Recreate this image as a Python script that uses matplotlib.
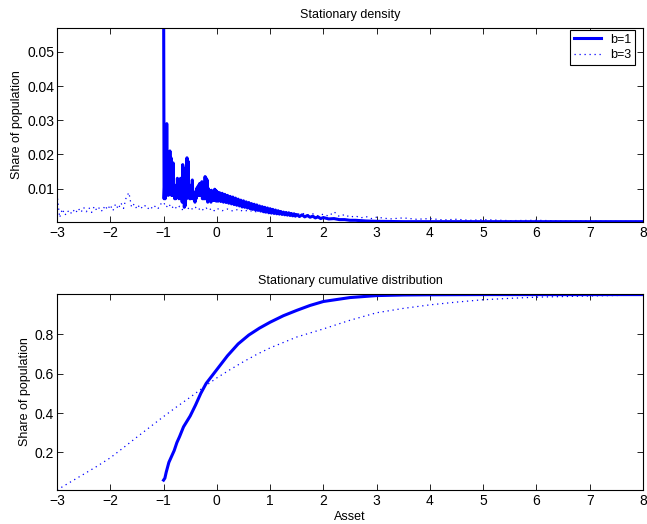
import matplotlib
matplotlib.use("Agg")
import matplotlib.pyplot as plt

plt.rcParams['font.family'] = ['Liberation Sans', 'DejaVu Sans']
plt.rcParams['font.size'] = 9

# ---- Stationary density, b=1 ----
dens1_x = [-1.00, -0.99, -0.98, -0.97, -0.96, -0.95, -0.94, -0.93, -0.92, -0.91,
           -0.90, -0.89, -0.88, -0.87, -0.86, -0.85, -0.84, -0.83, -0.82, -0.81,
           -0.80, -0.79, -0.78, -0.77, -0.76, -0.75, -0.74, -0.73, -0.72, -0.71,
           -0.70, -0.69, -0.68, -0.67, -0.66, -0.65, -0.64, -0.63, -0.62, -0.61,
           -0.60, -0.59, -0.58, -0.57, -0.56, -0.55, -0.54, -0.53, -0.52, -0.51,
           -0.50, -0.49, -0.48, -0.47, -0.46, -0.45, -0.44, -0.43, -0.42, -0.41,
           -0.40, -0.39, -0.38, -0.37, -0.36, -0.35, -0.34, -0.33, -0.32, -0.31,
           -0.30, -0.29, -0.28, -0.27, -0.26, -0.25, -0.24, -0.23, -0.22, -0.21,
           -0.20, -0.19, -0.18, -0.17, -0.16, -0.15, -0.14, -0.13, -0.12, -0.11,
           -0.10, -0.09, -0.08, -0.07, -0.06, -0.05, -0.04, -0.03, -0.02, -0.01,
           0.00,
           0.025, 0.05, 0.075, 0.10, 0.125, 0.15, 0.175, 0.20, 0.225, 0.25,
           0.275, 0.30, 0.325, 0.35, 0.375, 0.40, 0.425, 0.45, 0.475, 0.50,
           0.525, 0.55, 0.575, 0.60, 0.625, 0.65, 0.675, 0.70, 0.725, 0.75,
           0.775, 0.80, 0.825, 0.85, 0.875, 0.90, 0.925, 0.95, 0.975, 1.00,
           1.025, 1.05, 1.075, 1.10, 1.125, 1.15, 1.175, 1.20, 1.225, 1.25,
           1.275, 1.30, 1.325, 1.35, 1.375, 1.40, 1.425, 1.45, 1.475, 1.50,
           1.55, 1.60, 1.65, 1.70, 1.75, 1.80, 1.85, 1.90, 1.95, 2.00,
           2.10, 2.20, 2.30, 2.40, 2.50, 2.60, 2.80, 3.00, 3.50, 4.00,
           5.00, 6.00, 7.00, 8.00]
dens1_y = [0.075, 0.007, 0.011, 0.007, 0.012, 0.008, 0.029, 0.010, 0.013, 0.008,
           0.012, 0.009, 0.021, 0.009, 0.019, 0.008, 0.012, 0.008, 0.0175, 0.008,
           0.011, 0.007, 0.010, 0.007, 0.011, 0.008, 0.013, 0.008, 0.011, 0.007,
           0.010, 0.008, 0.013, 0.007, 0.010, 0.006, 0.017, 0.007, 0.016, 0.0045,
           0.009, 0.005, 0.010, 0.007, 0.019, 0.008, 0.018, 0.008, 0.010, 0.007,
           0.009, 0.007, 0.011, 0.008, 0.0125, 0.007, 0.009, 0.007, 0.008, 0.006,
           0.009, 0.007, 0.010, 0.008, 0.0105, 0.008, 0.011, 0.008, 0.0115, 0.008,
           0.0115, 0.008, 0.012, 0.007, 0.011, 0.007, 0.011, 0.007, 0.0135, 0.007,
           0.013, 0.007, 0.0125, 0.006, 0.010, 0.0065, 0.0095, 0.0065, 0.009, 0.006,
           0.0095, 0.0065, 0.009, 0.0065, 0.009, 0.0065, 0.0098, 0.0065, 0.0095, 0.0063,
           0.0092,
           0.0063, 0.0088, 0.0062, 0.0086, 0.0060, 0.0083, 0.0059, 0.0080, 0.0057, 0.0077,
           0.0055, 0.0075, 0.0053, 0.0072, 0.0051, 0.0069, 0.0049, 0.0066, 0.0046, 0.0064,
           0.0045, 0.0061, 0.0043, 0.0059, 0.0041, 0.0056, 0.0039, 0.0054, 0.0037, 0.0052,
           0.0036, 0.0049, 0.0034, 0.0047, 0.0032, 0.0045, 0.0031, 0.0043, 0.0029, 0.0041,
           0.0028, 0.0039, 0.0027, 0.0037, 0.0026, 0.0035, 0.0025, 0.0033, 0.0024, 0.0031,
           0.0023, 0.0030, 0.0022, 0.0029, 0.0021, 0.0027, 0.0020, 0.0026, 0.0019, 0.0024,
           0.0018, 0.0023, 0.0017, 0.0021, 0.0016, 0.0019, 0.0014, 0.0017, 0.0012, 0.0015,
           0.0011, 0.0012, 0.0009, 0.0009, 0.0007, 0.0007, 0.0005, 0.0004, 0.0003, 0.0003,
           0.0003, 0.0003, 0.0003, 0.0003]

# ---- Stationary density, b=3 ----
dens3_x = [-3.00, -2.95, -2.90, -2.85, -2.80, -2.75, -2.70, -2.65, -2.60, -2.55,
           -2.50, -2.45, -2.40, -2.35, -2.30, -2.25, -2.20, -2.15, -2.10, -2.05,
           -2.00, -1.95, -1.90, -1.85, -1.80, -1.75, -1.70, -1.65, -1.60, -1.55,
           -1.50, -1.45, -1.40, -1.35, -1.30, -1.25, -1.20, -1.15, -1.10, -1.05,
           -1.00, -0.95, -0.90, -0.85, -0.80, -0.75, -0.70, -0.65, -0.60, -0.55,
           -0.50, -0.45, -0.40, -0.35, -0.30, -0.25, -0.20, -0.15, -0.10, -0.05,
           0.00, 0.10, 0.20, 0.30, 0.40, 0.50, 0.60, 0.70, 0.80, 0.90,
           1.00, 1.10, 1.20, 1.30, 1.40, 1.50, 1.60, 1.70, 1.80, 1.90,
           2.00, 2.10, 2.20, 2.30, 2.40, 2.50, 2.60, 2.70, 2.80, 2.90,
           3.00, 3.25, 3.50, 3.75, 4.00, 4.25, 4.50, 4.75, 5.00, 5.50,
           6.00, 6.50, 7.00, 7.50, 8.00]
dens3_y = [0.0085, 0.0015, 0.0040, 0.0022, 0.0035, 0.0025, 0.0038, 0.0028, 0.0042, 0.0030,
           0.0045, 0.0032, 0.0044, 0.0030, 0.0048, 0.0035, 0.0045, 0.0033, 0.0050, 0.0038,
           0.0052, 0.0035, 0.0055, 0.0040, 0.0058, 0.0042, 0.0075, 0.0088, 0.0045, 0.0055,
           0.0040, 0.0052, 0.0042, 0.0050, 0.0040, 0.0048, 0.0040, 0.0050, 0.0042, 0.0055,
           0.0060, 0.0045, 0.0055, 0.0042, 0.0050, 0.0040, 0.0048, 0.0038, 0.0050, 0.0040,
           0.0046, 0.0038, 0.0045, 0.0037, 0.0044, 0.0036, 0.0043, 0.0036, 0.0042, 0.0035,
           0.0042, 0.0035, 0.0040, 0.0034, 0.0039, 0.0033, 0.0037, 0.0031, 0.0035, 0.0029,
           0.0033, 0.0027, 0.0031, 0.0025, 0.0029, 0.0024, 0.0028, 0.0022, 0.0026, 0.0020,
           0.0025, 0.0019, 0.0032, 0.0018, 0.0024, 0.0016, 0.0020, 0.0014, 0.0018, 0.0012,
           0.0016, 0.0011, 0.0014, 0.0010, 0.0012, 0.0008, 0.0010, 0.0007, 0.0009, 0.0006,
           0.0007, 0.0005, 0.0005, 0.0004, 0.0004]

# ---- Stationary cumulative distribution ----
cdf1_x = [-1.00, -0.975, -0.95, -0.90, -0.875, -0.80, -0.75, -0.70, -0.625, -0.50,
          -0.40, -0.30, -0.20, -0.10, 0.00, 0.20, 0.40, 0.60, 0.80, 1.00,
          1.25, 1.50, 1.75, 2.00, 2.50, 3.00, 3.50, 4.00, 5.00, 6.00, 7.00, 8.00]
cdf1_y = [0.060, 0.070, 0.100, 0.150, 0.165, 0.210, 0.250, 0.280, 0.330, 0.385,
          0.440, 0.500, 0.550, 0.585, 0.620, 0.690, 0.750, 0.795, 0.830, 0.860,
          0.893, 0.920, 0.945, 0.965, 0.985, 0.995, 0.998, 0.999, 1.000, 1.000, 1.000, 1.000]

cdf3_x = [-3.00, -2.75, -2.50, -2.25, -2.00, -1.75, -1.50, -1.25, -1.00, -0.75,
          -0.50, -0.25, 0.00, 0.25, 0.50, 0.75, 1.00, 1.50, 2.00, 2.50,
          3.00, 3.50, 4.00, 4.50, 5.00, 5.50, 6.00, 7.00, 8.00]
cdf3_y = [0.010, 0.050, 0.090, 0.130, 0.173, 0.225, 0.278, 0.330, 0.382, 0.432,
          0.480, 0.530, 0.578, 0.620, 0.660, 0.697, 0.730, 0.785, 0.826, 0.870,
          0.908, 0.930, 0.948, 0.962, 0.974, 0.981, 0.987, 0.993, 0.998]

labels = ['b=1', 'b=3']
xticks = [-3, -2, -1, 0, 1, 2, 3, 4, 5, 6, 7, 8]
dens_yticks = [0.01, 0.02, 0.03, 0.04, 0.05]
cdf_yticks = [0.2, 0.4, 0.6, 0.8]

blue = '#0000ff'
W, H = 647, 524
fig = plt.figure(figsize=(W / 100, H / 100), dpi=100)

def px_axes(left, top, right, bottom):
    return fig.add_axes([left / W, 1 - bottom / H, (right - left) / W, (bottom - top) / H])

ax1 = px_axes(57, 28, 643, 222)
ax2 = px_axes(57, 294, 643, 490)

ax1.plot(dens1_x, dens1_y, color=blue, lw=2.2, label=labels[0])
ax1.plot(dens3_x, dens3_y, color=blue, lw=0.9, linestyle=(0, (1, 3)), label=labels[1])
ax1.set_xlim(-3, 8)
ax1.set_ylim(0.0002, 0.057)
ax1.set_xticks(xticks)
ax1.set_yticks(dens_yticks)
ax1.set_yticklabels(['0.01', '0.02', '0.03', '0.04', '0.05'])
ax1.set_title('Stationary density', fontsize=9, pad=7)
ax1.set_ylabel('Share of population', fontsize=9, labelpad=3)

# legend box: pixel x 568..635, y 30..63
anchor = ((635 - 57) / 586, 1 - (30 - 28) / 194)
leg = ax1.legend(loc='upper right', bbox_to_anchor=anchor, fontsize=9, fancybox=False,
                 framealpha=1, edgecolor='black', borderaxespad=0, handlelength=2.2,
                 handletextpad=0.7, borderpad=0.3, labelspacing=0.25)
leg.get_frame().set_linewidth(0.8)

ax2.plot(cdf1_x, cdf1_y, color=blue, lw=2.2)
ax2.plot(cdf3_x, cdf3_y, color=blue, lw=0.9, linestyle=(0, (1, 3)))
ax2.set_xlim(-3, 8)
ax2.set_ylim(0.01, 1.003)
ax2.set_xticks(xticks)
ax2.set_yticks(cdf_yticks)
ax2.set_title('Stationary cumulative distribution', fontsize=9, pad=7)
ax2.set_ylabel('Share of population', fontsize=9, labelpad=3)
ax2.set_xlabel('Asset', fontsize=9, labelpad=2)

for ax in (ax1, ax2):
    ax.tick_params(direction='in', top=True, right=True, length=4, width=0.6,
                   labelsize=10)
    ax.tick_params(axis='x', pad=3)
    ax.tick_params(axis='y', pad=2)
    for s in ax.spines.values():
        s.set_linewidth(0.8)

fig.savefig('out.png', dpi=100)
